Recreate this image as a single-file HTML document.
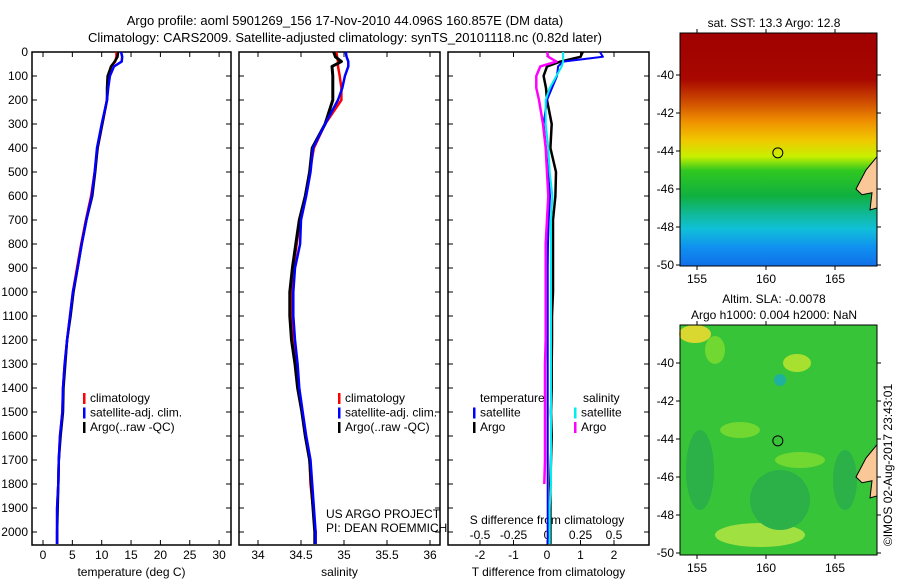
<!DOCTYPE html>
<html><head><meta charset="utf-8"><style>
body{margin:0;background:#fff;}
svg{display:block;font-family:"Liberation Sans",sans-serif;font-size:12px;}
</style></head><body>
<svg id="c" width="900" height="580" viewBox="0 0 900 580">
<defs>
<linearGradient id="sst" x1="0" y1="0" x2="0" y2="1">
<stop offset="0" stop-color="#a00000"/><stop offset="0.2" stop-color="#a80800"/><stop offset="0.3" stop-color="#d05000"/>
<stop offset="0.38" stop-color="#f09000"/><stop offset="0.46" stop-color="#f0c800"/><stop offset="0.53" stop-color="#c8f000"/>
<stop offset="0.59" stop-color="#30c820"/><stop offset="0.7" stop-color="#10b040"/><stop offset="0.77" stop-color="#10b890"/>
<stop offset="0.84" stop-color="#10c0d8"/><stop offset="0.92" stop-color="#1090f0"/><stop offset="1" stop-color="#1070e8"/></linearGradient>
</defs>
<g font-size="13" text-anchor="middle">
<text x="345" y="25">Argo profile: aoml 5901269_156 17-Nov-2010 44.096S 160.857E (DM data)</text>
<text x="345" y="42">Climatology: CARS2009. Satellite-adjusted climatology: synTS_20101118.nc (0.82d later)</text>
</g>
<g id="p1"></g>
<g id="p2"></g>
<g id="p3"></g>
<g id="maps"></g>
<text x="892" y="465" transform="rotate(-90 892 465)" text-anchor="middle">©IMOS 02-Aug-2017 23:43:01</text>
</svg>
<script>
const depths=[0,20,40,60,100,150,200,300,400,500,600,700,800,900,1000,1100,1200,1300,1400,1500,1600,1700,1800,1900,2000];
const tClim=[12.5,12.5,12.3,11.6,11.1,11.0,10.9,10.1,9.3,8.8,8.2,7.3,6.5,5.8,5.1,4.6,4.1,3.7,3.4,3.3,2.9,2.7,2.6,2.4,2.4];
const tSat=[13.3,13.5,13.4,12.1,11.4,11.1,10.9,10.0,9.2,8.8,8.3,7.4,6.6,5.9,5.1,4.6,4.1,3.7,3.4,3.3,2.9,2.7,2.6,2.4,2.4];
const tArgo=[12.8,12.7,12.2,11.6,11.0,10.9,10.9,10.1,9.3,8.9,8.4,7.4,6.6,5.9,5.2,4.7,4.1,3.8,3.5,3.4,3.0,2.7,2.6,2.5,2.4];
const sClim=[34.91,34.92,34.93,34.93,34.95,34.97,34.97,34.78,34.65,34.6,34.55,34.49,34.45,34.41,34.39,34.39,34.41,34.44,34.47,34.51,34.55,34.6,34.61,34.64,34.67];
const sSat=[35.02,35.03,35.05,35.05,35.01,34.98,34.93,34.78,34.64,34.61,34.56,34.5,34.49,34.43,34.41,34.41,34.43,34.46,34.48,34.52,34.56,34.61,34.63,34.65,34.67];
const sArgo=[34.88,34.9,34.97,34.86,34.87,34.87,34.87,34.78,34.63,34.6,34.55,34.48,34.44,34.4,34.37,34.37,34.39,34.43,34.46,34.51,34.55,34.6,34.62,34.64,34.66];
const dTsat=[1.58,1.67,0.48,0.33,0.3,0.15,0,-0.1,-0.03,0.03,0.09,0.05,0.03,0.02,0.02,0.02,0.02,0.02,0.02,0.02,0.02,0.02,0.02,0.02,0.02];
const dTargo=[1.07,1.0,0.4,0,-0.1,-0.03,0,0.14,0.1,0.27,0.25,0.18,0.18,0.18,0.18,0.15,0.15,0.14,0.14,0.12,0.14,0.12,0.1,0.1,0.1];
const dSsat=[0.12,0.12,0.12,0.11,0.07,0.02,-0.01,-0.01,0.01,0.02,0.04,0.03,0.03,0.03,0.03,0.03,0.03,0.03,0.03,0.03,0.03,0.03,0.03,0.02,0.02];
const dSargo=[0,0.01,0.07,-0.05,-0.08,-0.08,-0.06,-0.03,-0.01,0,0.01,0,-0.01,-0.01,-0.01,-0.01,-0.01,-0.015,-0.015,-0.015,-0.015,-0.015,-0.02];
const depthTicks=[0,100,200,300,400,500,600,700,800,900,1000,1100,1200,1300,1400,1500,1600,1700,1800,1900,2000];
const tTicks=[0,5,10,15,20,25,30];
const sTicks=[34,34.5,35,35.5,36];
const dTTicks=[-2,-1,0,1,2];
const dSTicks=[-0.5,-0.25,0,0.25,0.5];
const latTicks=[-40,-42,-44,-46,-48,-50];
const lonTicks=[155,160,165];
const NS='http://www.w3.org/2000/svg';
function mk(p,tag,at,txt){const e=document.createElementNS(NS,tag);for(const k in at)e.setAttribute(k,at[k]);if(txt!==undefined)e.textContent=txt;p.appendChild(e);return e;}
const yD=d=>52+d*0.24;
const TOP=52,BOT=545;
function panel(g,x0,x1,xs,ticks,label,showDepth){
  const r=mk(g,'rect',{x:x0,y:TOP,width:x1-x0,height:BOT-TOP,fill:'none',stroke:'#000','stroke-width':1.5});
  
  
  ticks.forEach(t=>{const x=xs(t);
    mk(g,'line',{x1:x,x2:x,y1:TOP,y2:TOP+5,stroke:'#000'});
    mk(g,'line',{x1:x,x2:x,y1:BOT,y2:BOT-5,stroke:'#000'});
    const l=mk(g,'text',{x:x,y:559,'text-anchor':'middle'},String(t));
    
    
  });
  depthTicks.forEach(d=>{const y=yD(d);
    mk(g,'line',{x1:x0,x2:x0+5,y1:y,y2:y,stroke:'#000'});
    mk(g,'line',{x1:x1,x2:x1-5,y1:y,y2:y,stroke:'#000'});
    if(showDepth){const l=mk(g,'text',{x:28,y:y+4,'text-anchor':'end'},String(d));
      
      }
  });
  const xl=mk(g,'text',{x:(x0+x1)/2,y:576,'text-anchor':'middle'},label);
  
  
}
function line(g,vals,xs,color,w,name){
  let d='';vals.forEach((v,i)=>{d+=(i?'L':'M')+xs(v).toFixed(1)+','+yD(depths[i]).toFixed(1);});
  if(vals.length===depths.length)d+='L'+xs(vals[vals.length-1]).toFixed(1)+','+(BOT-1);
  const p=mk(g,'path',{d:d,fill:'none',stroke:color,'stroke-width':w,'stroke-linejoin':'round'});
  
  
}
function legend(g,x,y,items){
  items.forEach((it,i)=>{mk(g,'rect',{x:x,y:y+i*14.5-9,width:2.5,height:11,fill:it[0]});
    const t=mk(g,'text',{x:x+7,y:y+i*14.5},it[1]);
    
    });
}
const g1=document.getElementById('p1');
const xT=t=>43+t*5.87;
panel(g1,32,231,xT,tTicks,'temperature (deg C)',true);
line(g1,tClim,xT,'#f00',2.5,'temperature-climatology-line');
line(g1,tArgo,xT,'#000',2.5,'temperature-argo-line');
line(g1,tSat,xT,'#00f',2.5,'temperature-satellite-line');
legend(g1,83,402,[['#f00','climatology'],['#00f','satellite-adj. clim.'],['#000','Argo(..raw -QC)']]);
const g2=document.getElementById('p2');
const xS=s=>258+(s-34)*86;
panel(g2,239,440,xS,sTicks,'salinity',false);
line(g2,sClim,xS,'#f00',2.5,'salinity-climatology-line');
line(g2,sArgo,xS,'#000',3,'salinity-argo-line');
line(g2,sSat,xS,'#00f',2.5,'salinity-satellite-line');
legend(g2,338,402,[['#f00','climatology'],['#00f','satellite-adj. clim.'],['#000','Argo(..raw -QC)']]);
mk(g2,'text',{x:326,y:518},'US ARGO PROJECT');
mk(g2,'text',{x:326,y:532},'PI: DEAN ROEMMICH');
const g3=document.getElementById('p3');
const xdT=v=>547+v*33.5, xdS=v=>547+v*134;
panel(g3,448,649,xdT,dTTicks,'T difference from climatology',false);
mk(g3,'text',{x:547,y:524,'text-anchor':'middle'},'S difference from climatology');
dSTicks.forEach(t=>{const l=mk(g3,'text',{x:xdS(t),y:539,'text-anchor':'middle'},String(t));
  
  });
line(g3,dTargo,xdT,'#000',2.5,'t-diff-argo-line');
line(g3,dTsat,xdT,'#00f',2,'t-diff-satellite-line');
line(g3,dSargo,xdS,'#f0f',2.5,'s-diff-argo-line');
line(g3,dSsat,xdS,'#0ee',2,'s-diff-satellite-line');
mk(g3,'text',{x:480,y:402},'temperature');
mk(g3,'text',{x:583,y:402},'salinity');
legend(g3,473,416.5,[['#00f','satellite'],['#000','Argo']]);
legend(g3,574,416.5,[['#0ee','satellite'],['#f0f','Argo']]);
const gm=document.getElementById('maps');
function map(y0,y1,latBottomY,title,fillFn){
  const x0=680,x1=877;
  const lonX=l=>697+(l-155)*13.8, latY=l=>latBottomY-(l+50)*19;
  fillFn(x0,y0,x1-x0,y1-y0);
  mk(gm,'path',{d:`M877,${latY(-44.3)} L866,${latY(-45.0)} L856,${latY(-46.0)} L862,${latY(-46.3)} L872,${latY(-46.2)} L870,${latY(-47.1)} L877,${latY(-47.0)} Z`,fill:'#fac896',stroke:'#000','stroke-width':1});
  mk(gm,'circle',{cx:lonX(160.857),cy:latY(-44.096),r:5,fill:'none',stroke:'#000','stroke-width':1});
  mk(gm,'rect',{x:x0,y:y0,width:x1-x0,height:y1-y0,fill:'none',stroke:'#000','stroke-width':1});
  latTicks.forEach(l=>{const y=latY(l);mk(gm,'line',{x1:x0-4,x2:x0,y1:y,y2:y,stroke:'#000'});mk(gm,'line',{x1:x1,x2:x1+4,y1:y,y2:y,stroke:'#000'});
    const t=mk(gm,'text',{x:x0-6,y:y+4,'text-anchor':'end'},String(l));
    
    });
  lonTicks.forEach(l=>{const x=lonX(l);mk(gm,'line',{x1:x,x2:x,y1:y1,y2:y1+4,stroke:'#000'});mk(gm,'line',{x1:x,x2:x,y1:y0-4,y2:y0,stroke:'#000'});
    const t=mk(gm,'text',{x:x,y:y1+17,'text-anchor':'middle'},String(l));
    
    });
  title.forEach((s,i)=>mk(gm,'text',{x:774,y:y0-(title.length-i)*16+10,'text-anchor':'middle'},s));
}
map(33,266,265,['sat. SST: 13.3 Argo: 12.8'],(x,y,w,h)=>{
  const r=mk(gm,'rect',{x:x,y:y,width:w,height:h,fill:'url(#sst)'});
  
  
});
map(325,555,553,['Altim. SLA: -0.0078','Argo h1000: 0.004 h2000: NaN'],(x,y,w,h)=>{
  const r=mk(gm,'rect',{x:x,y:y,width:w,height:h,fill:'#38c438'});
  
  
  [[695,334,16,9,'#d8d830'],[797,363,14,9,'#a8e030'],[780,380,6,6,'#20b0a0'],[715,350,10,14,'#70d830'],[740,430,20,8,'#70d830'],[800,460,25,8,'#70d830'],[760,535,45,12,'#a0e040'],[700,470,14,40,'#2cb048'],[780,500,30,30,'#2cb048'],[845,480,12,30,'#2cb048']].forEach(e=>
    mk(gm,'ellipse',{cx:e[0],cy:e[1],rx:e[2],ry:e[3],fill:e[4]}));
});
</script>
</body></html>
